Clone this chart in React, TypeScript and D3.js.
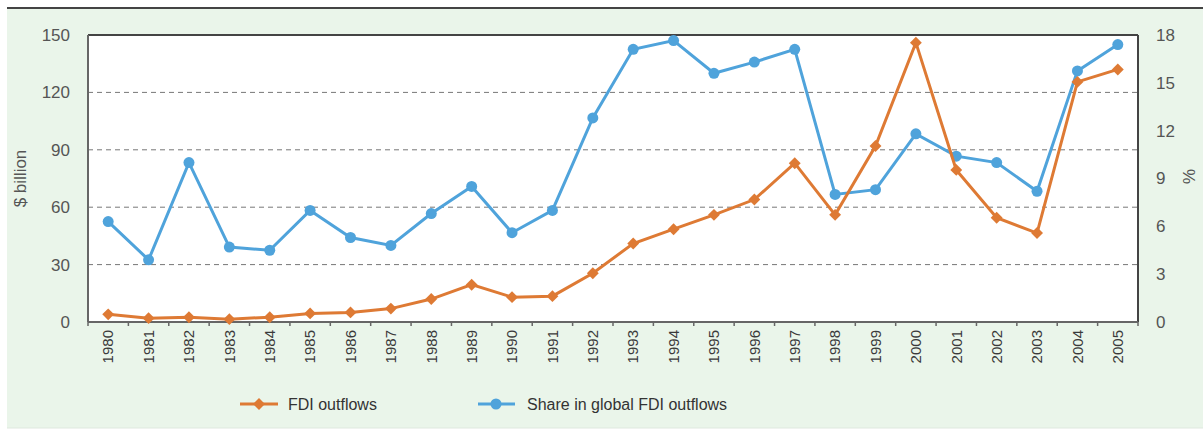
import React from 'react';
import * as d3 from 'd3';

const years = [
  '1980', '1981', '1982', '1983', '1984', '1985', '1986', '1987', '1988', '1989',
  '1990', '1991', '1992', '1993', '1994', '1995', '1996', '1997', '1998', '1999',
  '2000', '2001', '2002', '2003', '2004', '2005',
];

// $ billion, left axis
const fdiOutflows = [
  4, 2, 2.5, 1.5, 2.5, 4.5, 5, 7, 12, 19.5,
  13, 13.5, 25.5, 41, 48.5, 56, 64, 83, 56, 92,
  146, 79.5, 54.5, 46.5, 125.5, 132,
];

// %, right axis
const globalShare = [
  6.3, 3.9, 10.0, 4.7, 4.5, 7.0, 5.3, 4.8, 6.8, 8.5,
  5.6, 7.0, 12.8, 17.1, 17.65, 15.6, 16.3, 17.1, 8.0, 8.3,
  11.8, 10.4, 10.0, 8.2, 15.75, 17.4,
];

const leftTicks = [0, 30, 60, 90, 120, 150];
const rightTicks = [0, 3, 6, 9, 12, 15, 18];

const W = 1203;
const H = 430;
const margin = { top: 35, right: 65, bottom: 108, left: 88 };
const ORANGE = '#de7a34';
const BLUE = '#4fa3db';
const TEXT = '#555';
const FONT = 'Liberation Sans, Arial, sans-serif';

export default function App() {
  const plotW = W - margin.left - margin.right;
  const plotH = H - margin.top - margin.bottom;

  const x = d3.scaleBand().domain(years).range([margin.left, margin.left + plotW]);
  const cx = (d: string) => (x(d) || 0) + x.bandwidth() / 2;
  const yL = d3.scaleLinear().domain([0, 150]).range([margin.top + plotH, margin.top]);
  const yR = d3.scaleLinear().domain([0, 18]).range([margin.top + plotH, margin.top]);

  const fdiLine = d3.line<number>().x((_, i) => cx(years[i])).y(d => yL(d));
  const shareLine = d3.line<number>().x((_, i) => cx(years[i])).y(d => yR(d));

  const diamond = d3.symbol().type(d3.symbolDiamond2).size(90)() || '';
  const bottom = margin.top + plotH;
  const right = margin.left + plotW;

  return (
    <div style={{ position: 'absolute', left: 0, top: 0 }}>
      <svg width={W} height={H} style={{ display: 'block', fontFamily: FONT }}>
        <rect x={0} y={0} width={W} height={H} fill="#ffffff" />
        <rect x={7} y={8} width={W - 7} height={H - 10} fill="#eaf5ea" />
        <line x1={7} x2={W} y1={8} y2={8} stroke="#444" strokeWidth={2} />
        <line x1={7} x2={W} y1={H - 2} y2={H - 2} stroke="#dfe8df" strokeWidth={1} />

        {/* plot area */}
        <rect x={margin.left} y={margin.top} width={plotW} height={plotH} fill="#ffffff" />

        {/* grid */}
        {leftTicks.slice(1, -1).map(t => (
          <line key={t} x1={margin.left} x2={right} y1={yL(t)} y2={yL(t)}
            stroke="#777" strokeWidth={1} strokeDasharray="5,4" />
        ))}

        {/* frame */}
        <line x1={margin.left} x2={right} y1={margin.top} y2={margin.top} stroke="#444" strokeWidth={2} />
        <line x1={margin.left} x2={margin.left} y1={margin.top} y2={bottom} stroke="#666" strokeWidth={2} />
        <line x1={right} x2={right} y1={margin.top} y2={bottom} stroke="#444" strokeWidth={2} />
        <line x1={margin.left} x2={right} y1={bottom} y2={bottom} stroke="#666" strokeWidth={2} />

        {/* x ticks at band edges */}
        {years.map(yr => (
          <line key={yr} x1={x(yr)} x2={x(yr)} y1={bottom} y2={bottom + 4} stroke="#666" strokeWidth={1.5} />
        ))}
        <line x1={right} x2={right} y1={bottom} y2={bottom + 4} stroke="#666" strokeWidth={1.5} />

        {/* left axis labels */}
        {leftTicks.map(t => (
          <text key={t} x={margin.left - 18} y={yL(t)} dy="0.35em" textAnchor="end"
            fontSize={17} fill={TEXT}>{t}</text>
        ))}
        {/* right axis labels */}
        {rightTicks.map(t => (
          <text key={t} x={right + 18} y={yR(t)} dy="0.35em" textAnchor="start"
            fontSize={17} fill={TEXT}>{t}</text>
        ))}

        {/* x labels */}
        {years.map(yr => (
          <text key={yr} transform={`translate(${cx(yr)},${bottom + 8}) rotate(-90)`}
            textAnchor="end" dy="0.35em" fontSize={15} fill="#3a3a3a">{yr}</text>
        ))}

        {/* axis titles */}
        <text transform={`translate(20,${(margin.top + bottom) / 2}) rotate(-90)`}
          textAnchor="middle" dy="0.35em" fontSize={17} fill={TEXT}>$ billion</text>
        <text transform={`translate(1189,${(margin.top + bottom) / 2 - 2}) rotate(90)`}
          textAnchor="middle" dy="0.35em" fontSize={17} fill={TEXT}>%</text>

        {/* series */}
        <path d={shareLine(globalShare) || ''} fill="none" stroke={BLUE} strokeWidth={3} />
        {globalShare.map((v, i) => (
          <circle key={i} cx={cx(years[i])} cy={yR(v)} r={5.5} fill={BLUE} />
        ))}
        <path d={fdiLine(fdiOutflows) || ''} fill="none" stroke={ORANGE} strokeWidth={3} />
        {fdiOutflows.map((v, i) => (
          <path key={i} d={diamond} transform={`translate(${cx(years[i])},${yL(v)})`} fill={ORANGE} />
        ))}

        {/* legend */}
        <line x1={240} x2={278} y1={404} y2={404} stroke={ORANGE} strokeWidth={3} />
        <path d={diamond} transform="translate(259,404)" fill={ORANGE} />
        <text x={288} y={404} dy="0.35em" fontSize={16} fill="#333">FDI outflows</text>
        <line x1={478} x2={515} y1={404} y2={404} stroke={BLUE} strokeWidth={3} />
        <circle cx={496} cy={404} r={5.5} fill={BLUE} />
        <text x={527} y={404} dy="0.35em" fontSize={16} fill="#333">Share in global FDI outflows</text>
      </svg>
    </div>
  );
}
